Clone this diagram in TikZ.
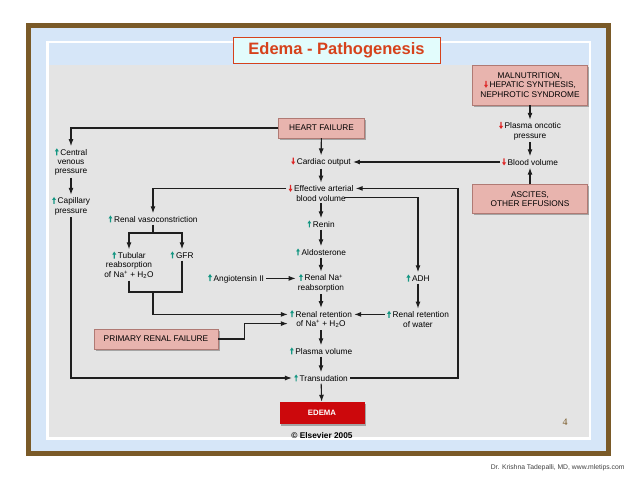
\documentclass[tikz,border=0pt]{standalone}
\usepackage{fontspec}
\setmainfont{Liberation Sans}
\newfontfamily\slidenum{Liberation Serif}
\usetikzlibrary{positioning,arrows.meta,shadows,calc}
\definecolor{panelgray}{RGB}{228,228,228}
\definecolor{slideblue}{RGB}{214,230,248}
\definecolor{framebrown}{RGB}{122,90,40}
\definecolor{boxpink}{RGB}{232,180,174}
\definecolor{boxrule}{RGB}{176,122,116}
\definecolor{edemared}{RGB}{204,8,12}
\definecolor{titlered}{RGB}{214,66,28}
\definecolor{titlefill}{RGB}{226,252,252}
\definecolor{upgreen}{RGB}{20,150,130}
\definecolor{downred}{RGB}{222,40,40}
\definecolor{linkgray}{RGB}{30,30,30}
\newcommand{\upmark}{\tikz[baseline=0pt,x=1pt,y=1pt]\fill[upgreen] (-0.6,0) -- (-0.6,4) -- (-2,4) -- (0,7) -- (2,4) -- (0.6,4) -- (0.6,0) -- cycle;\hspace{1.6pt}}
\newcommand{\downmark}{\tikz[baseline=0pt,x=1pt,y=1pt]\fill[downred] (-0.6,7) -- (-0.6,3) -- (-2,3) -- (0,0) -- (2,3) -- (0.6,3) -- (0.6,7) -- cycle;\hspace{1.6pt}}
\tikzset{
  cause/.style={rectangle,draw=boxrule,fill=boxpink,align=center,inner sep=2pt,font=\fontsize{8.3}{9.3}\selectfont,drop shadow={shadow xshift=1.6pt,shadow yshift=-1.6pt,fill=black!60,opacity=0.5}},
  effect/.style={align=center,inner sep=2pt,font=\fontsize{8.3}{9.3}\selectfont},
  edge/.style={-{Latex[length=7pt,width=5pt]},line width=1.1pt,draw=linkgray},
  link/.style={line width=1.1pt,draw=linkgray}
}
\begin{document}
\begin{tikzpicture}[x=1pt,y=-1pt]
  \useasboundingbox (0,0) rectangle (638,479);
  % slide frame
  \fill[framebrown] (26,23) rectangle (611,456);
  \fill[slideblue] (31,27.5) rectangle (606,451);
  \draw[white,line width=2.5pt] (47.5,42) rectangle (590,438.5);
  \fill[panelgray] (49,65) rectangle (588.5,437);

  \node[draw=titlered,fill=titlefill,line width=0.8pt,minimum width=207pt,minimum height=26pt,font=\bfseries\fontsize{16.5}{18}\selectfont,text=titlered] (title) at (336.5,50) {Edema - Pathogenesis};

  % right column
  \node[cause,minimum width=115pt,minimum height=40pt] (malnut) at (530,85) {MALNUTRITION,\\\downmark HEPATIC SYNTHESIS,\\NEPHROTIC SYNDROME};
  \node[effect] (oncotic) at (530,131) {\downmark Plasma oncotic\\pressure};
  \node[effect] (bloodvol) at (530,162) {\downmark Blood volume};
  \node[cause,minimum width=115pt,minimum height=29pt] (ascites) at (530,199) {ASCITES,\\OTHER EFFUSIONS};

  % main column
  \node[cause,minimum width=86pt,minimum height=20pt] (heart) at (321.5,128) {HEART FAILURE};
  \node[effect] (cardiac) at (321,162) {\downmark Cardiac output};
  \node[effect] (arterial) at (321,193) {\downmark Effective arterial\\blood volume};
  \node[effect] (renin) at (321,224) {\upmark Renin};
  \node[effect] (aldo) at (321,252) {\upmark Aldosterone};
  \node[effect] (nareab) at (321,283) {\upmark Renal Na\textsuperscript{+}\\reabsorption};
  \node[effect] (retnaw) at (321,319) {\upmark Renal retention\\of Na\textsuperscript{+} + H\textsubscript{2}O};
  \node[effect] (plasma) at (321,351) {\upmark Plasma volume};
  \node[effect] (transud) at (321,378) {\upmark Transudation};
  \node[fill=edemared,text=white,font=\bfseries\fontsize{7.8}{9}\selectfont,minimum width=85pt,minimum height=22pt,drop shadow={shadow xshift=1.6pt,shadow yshift=-1.6pt,fill=black!60,opacity=0.5}] (edema) at (322,413) {EDEMA};
  \node[font=\bfseries\fontsize{8.3}{10}\selectfont] (elsevier) at (322,436) {\textcopyright{} Elsevier 2005};

  % left side
  \node[effect] (venous) at (71,162) {\upmark Central\\venous\\pressure};
  \node[effect] (capill) at (71,206) {\upmark Capillary\\pressure};
  \node[effect] (vasocon) at (153,219) {\upmark Renal vasoconstriction};
  \node[effect] (tubular) at (129,265) {\upmark Tubular\\reabsorption\\of Na\textsuperscript{+} + H\textsubscript{2}O};
  \node[effect] (gfr) at (182,255) {\upmark GFR};
  \node[cause,minimum width=124pt,minimum height=20pt] (primary) at (156,339) {PRIMARY RENAL FAILURE};
  \node[effect] (angio) at (236,278.4) {\upmark Angiotensin II};
  \node[effect] (adh) at (418,278) {\upmark ADH};
  \node[effect] (retwat) at (418,319) {\upmark Renal retention\\of water};

  \node[font=\slidenum\fontsize{10}{12}\selectfont,text=framebrown] (pagenum) at (565,422) {4};
  \node[font=\fontsize{6.8}{8}\selectfont,text=black!75,anchor=east] (credit) at (628,468) {Dr. Krishna Tadepalli, MD, www.mletips.com};

  % ports on single text lines
  \path ([yshift=4.6pt]arterial.west) coordinate (artL)
        ([yshift=4.6pt]arterial.east) coordinate (artR)
        ([xshift=-12pt,yshift=-4.6pt]arterial.east) coordinate (artR2)
        ([yshift=4.6pt]retnaw.west) coordinate (retL1)
        ([yshift=-4.6pt]retnaw.west) coordinate (retL2)
        ([yshift=4.6pt]retnaw.east) coordinate (retR1)
        ([yshift=4.6pt]retwat.west) coordinate (watL1);
  \coordinate (vsplit) at (153,233);
  \coordinate (vjoin) at (153,292);
  \coordinate (loopx) at (458,0);

  \draw[edge] (malnut) -- (oncotic);
  \draw[edge] (oncotic) -- (bloodvol);
  \draw[edge] (ascites) -- (bloodvol);
  \draw[edge] (bloodvol.west) -- (cardiac.east);

  \draw[edge] (heart) -- (cardiac);
  \draw[edge] (cardiac) -- (arterial);
  \draw[edge] (arterial) -- (renin);
  \draw[edge] (renin) -- (aldo);
  \draw[edge] (aldo) -- (nareab);
  \draw[edge] (nareab) -- (retnaw);
  \draw[edge] (retnaw) -- (plasma);
  \draw[edge] (plasma) -- (transud);
  \draw[edge] (transud) -- (edema);

  \draw[edge] (heart.west) -| (venous.north);
  \draw[edge] (venous) -- (capill);
  \draw[edge] (capill.south) |- (transud.west);

  \draw[edge] (artL) -| (vasocon.north);
  \draw[link] (vasocon.south) -- (vsplit);
  \draw[edge] (vsplit) -| (tubular.north);
  \draw[edge] (vsplit) -| (gfr.north);
  \draw[link] (tubular.south) |- (vjoin);
  \draw[link] (gfr.south) |- (vjoin);
  \draw[edge] (vjoin) |- (retL1);
  \draw[edge] (primary.east) -- ++(26,0) |- (retL2);
  \draw[edge] (angio.east) -- (angio.east -| nareab.west);

  \draw[edge] (artR2) -| (adh.north);
  \draw[edge] (adh) -- (retwat);
  \draw[edge] (watL1) -- (retR1);
  \draw[edge] (transud.east) -| (loopx |- artR) -- (artR);
\end{tikzpicture}
\end{document}
